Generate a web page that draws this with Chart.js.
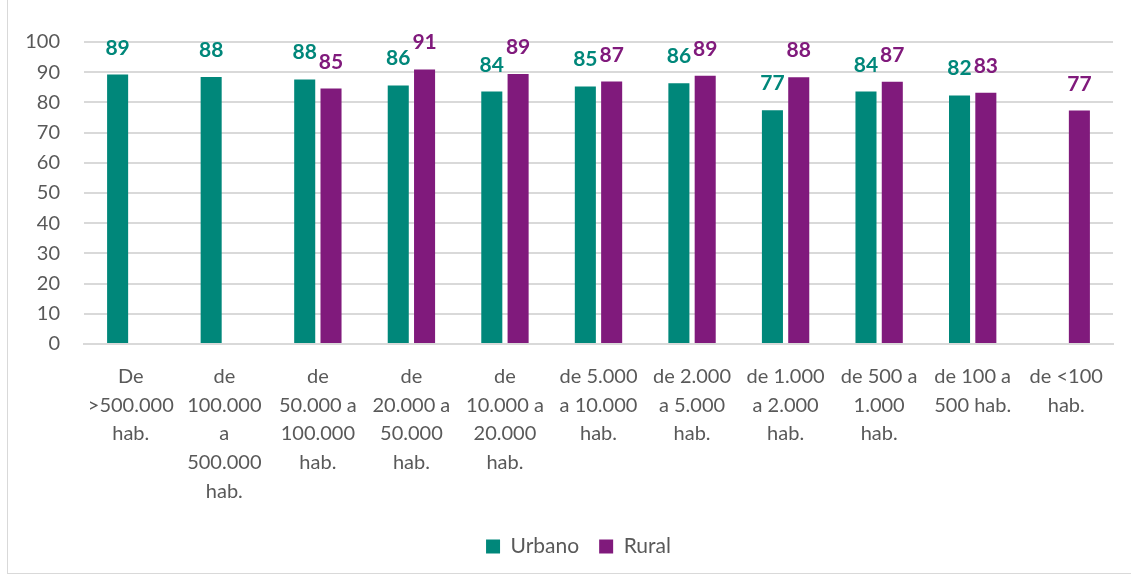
<!DOCTYPE html>
<html>
<head>
<meta charset="utf-8">
<script src="https://cdn.jsdelivr.net/npm/chart.js@4"></script>
<style>
  html, body { margin: 0; padding: 0; background: #fff; overflow: hidden; }
  #wrap { position: relative; width: 1131px; height: 577px; }
  #frame { position: absolute; left: 7px; top: -2px; width: 1130px; height: 576px; border: 1px solid #d9d9d9; box-sizing: border-box; pointer-events: none; }
  canvas { position: absolute; left: 0; top: 0; }
</style>
</head>
<body>
<div id="wrap">
  <canvas id="chart" width="1131" height="577"></canvas>
  <div id="frame"></div>
</div>
<script>
// --- data ---
const categories = [
    ['De', '>500.000', 'hab.'],
    ['de', '100.000', 'a', '500.000', 'hab.'],
    ['de', '50.000 a', '100.000', 'hab.'],
    ['de', '20.000 a', '50.000', 'hab.'],
    ['de', '10.000 a', '20.000', 'hab.'],
    ['de 5.000', 'a 10.000', 'hab.'],
    ['de 2.000', 'a 5.000', 'hab.'],
    ['de 1.000', 'a 2.000', 'hab.'],
    ['de 500 a', '1.000', 'hab.'],
    ['de 100 a', '500 hab.'],
    ['de <100', 'hab.']
];
const urbano = [89.2, 88.4, 87.6, 85.6, 83.6, 85.3, 86.3, 77.4, 83.6, 82.3, null];
const rural  = [null, null, 84.6, 90.9, 89.4, 86.9, 88.8, 88.3, 86.8, 83.2, 77.3];
const yTicks = [0, 10, 20, 30, 40, 50, 60, 70, 80, 90, 100];

const TEAL = '#00877A';
const PURPLE = '#801A7C';
const TEXT = '#595959';
const FONT = 'Lato, "Noto Sans", sans-serif';

// value labels above each bar
const barLabels = {
    id: 'barLabels',
    afterDatasetsDraw(chart) {
        const ctx = chart.ctx;
        ctx.save();
        ctx.font = 'bold 21px ' + FONT;
        ctx.textAlign = 'center';
        ctx.textBaseline = 'alphabetic';
        chart.data.datasets.forEach((ds, i) => {
            const meta = chart.getDatasetMeta(i);
            meta.data.forEach((bar, j) => {
                const v = ds.data[j];
                if (v === null || v === undefined) return;
                ctx.fillStyle = ds.backgroundColor;
                ctx.fillText(Math.round(v), bar.x, bar.y - 20);
            });
        });
        ctx.restore();
    }
};

// legend sits a bit right of the canvas centre in the original
const legendShift = {
    id: 'legendShift',
    beforeDraw(chart) {
        if (!chart.legend || chart.legend._shifted) return;
        chart.legend.left += 22;
        chart.legend.right += 22;
        chart.legend._shifted = true;
    }
};

new Chart(document.getElementById('chart'), {
    type: 'bar',
    data: {
        labels: categories,
        datasets: [
            { label: 'Urbano', data: urbano, backgroundColor: TEAL },
            { label: 'Rural', data: rural, backgroundColor: PURPLE }
        ]
    },
    options: {
        responsive: false,
        animation: false,
        devicePixelRatio: 1,
        categoryPercentage: 0.5625,
        barPercentage: 0.8,
        layout: { padding: { top: 42, right: 18, bottom: 10, left: 0 } },
        plugins: {
            tooltip: { enabled: false },
            legend: {
                position: 'bottom',
                labels: {
                    color: TEXT,
                    font: { family: FONT, size: 21 },
                    boxWidth: 14,
                    boxHeight: 14,
                    padding: 20
                }
            }
        },
        scales: {
            x: {
                grid: { display: false, drawTicks: false },
                border: { display: true, color: '#d9d9d9', width: 2 },
                ticks: {
                    color: TEXT,
                    font: { family: FONT, size: 20, lineHeight: 1.44 },
                    padding: 18,
                    maxRotation: 0,
                    autoSkip: false
                },
                afterFit(scale) { scale.height = 172; }
            },
            y: {
                min: 0,
                max: 100,
                afterBuildTicks(scale) { scale.ticks = yTicks.map(v => ({ value: v })); },
                grid: { color: '#d9d9d9', lineWidth: 2, drawTicks: false },
                border: { display: false },
                ticks: {
                    color: TEXT,
                    font: { family: FONT, size: 20 },
                    padding: 24
                },
                afterFit(scale) { scale.width = 84; }
            }
        }
    },
    plugins: [barLabels, legendShift]
});
</script>
</body>
</html>
